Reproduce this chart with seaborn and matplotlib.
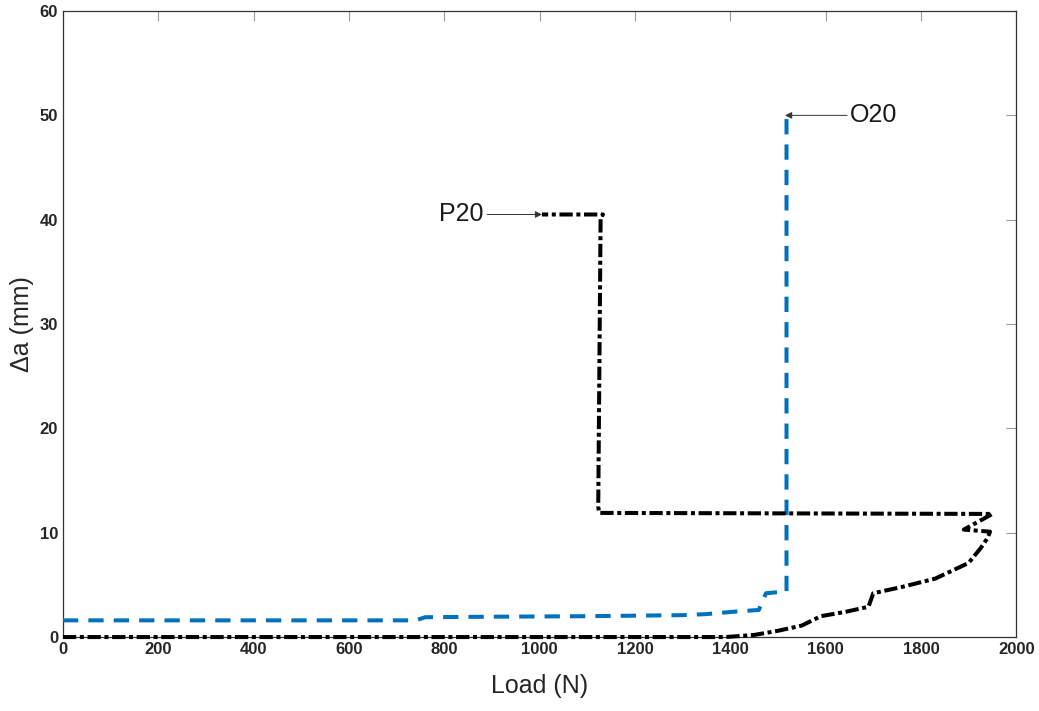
import numpy as np
import pandas as pd
import matplotlib
matplotlib.use("Agg")
import matplotlib.pyplot as plt
import seaborn as sns

# O20 curve (blue, dashed)
o20_load = [0, 740, 760, 900, 1100, 1300, 1350, 1400, 1460, 1468, 1475, 1500, 1518, 1518]
o20_da = [1.6, 1.6, 1.9, 1.95, 2.0, 2.1, 2.2, 2.4, 2.6, 3.5, 4.2, 4.3, 4.35, 50.3]

# P20 curve (black, dash-dot)
p20_load = [0, 1390, 1450, 1500, 1550, 1590, 1640, 1690, 1700, 1760, 1830, 1900, 1925,
            1940, 1945, 1890, 1950, 1125, 1123, 1128, 1133, 1005]
p20_da = [0, 0, 0.2, 0.6, 1.1, 2.0, 2.4, 2.9, 4.2, 4.8, 5.6, 7.1, 8.5,
          9.5, 10.1, 10.3, 11.8, 11.9, 12.5, 40.2, 40.5, 40.5]

x_ticks = [0, 200, 400, 600, 800, 1000, 1200, 1400, 1600, 1800, 2000]
y_ticks = [0, 10, 20, 30, 40, 50, 60]

sns.set_style("white")
plt.rcParams['font.family'] = ['Liberation Sans', 'DejaVu Sans']

fig = plt.figure(figsize=(10.39, 7.11), dpi=100)
ax = fig.add_axes([0.0606, 0.104, 0.9175, 0.8805])

o20 = pd.DataFrame({"Load": o20_load, "da": o20_da})
p20 = pd.DataFrame({"Load": p20_load, "da": p20_da})

sns.lineplot(data=o20, x="Load", y="da", sort=False, estimator=None, ax=ax,
             color="#0072BD", linewidth=2.9, dashes=False)
sns.lineplot(data=p20, x="Load", y="da", sort=False, estimator=None, ax=ax,
             color="black", linewidth=2.9, dashes=False)
ax.lines[0].set_dashes((3.8, 2.5))
ax.lines[1].set_dashes((3.3, 0.9, 1.0, 0.9))
for ln in ax.lines:
    ln.set_clip_on(False)
    ln.set_zorder(3)

arrow = dict(arrowstyle="-|>", color="#333333", lw=0.7, mutation_scale=10,
             shrinkA=0, shrinkB=0)
ax.annotate("P20", xy=(1005, 40.5), xytext=(883, 40.5), fontsize=18,
            ha="right", va="center", color="#1a1a1a", arrowprops=arrow)
ax.annotate("O20", xy=(1515, 50.0), xytext=(1652, 50.0), fontsize=18,
            ha="left", va="center", color="#1a1a1a", arrowprops=arrow)

ax.set_xlim(0, 2000)
ax.set_ylim(0, 60)
ax.set_xticks(x_ticks)
ax.set_yticks(y_ticks)
ax.set_xlabel("Load (N)", fontsize=18, color="#262626", labelpad=12)
ax.set_ylabel("Δa (mm)", fontsize=18, color="#262626", labelpad=4)
ax.tick_params(direction="in", length=7, width=0.8, color="#999999",
               top=True, right=True, labelsize=12, labelcolor="#262626")
for lab in ax.get_xticklabels() + ax.get_yticklabels():
    lab.set_fontweight("bold")
for s in ax.spines.values():
    s.set_color("#333333")
    s.set_linewidth(0.9)

fig.savefig("out.png", dpi=100)
